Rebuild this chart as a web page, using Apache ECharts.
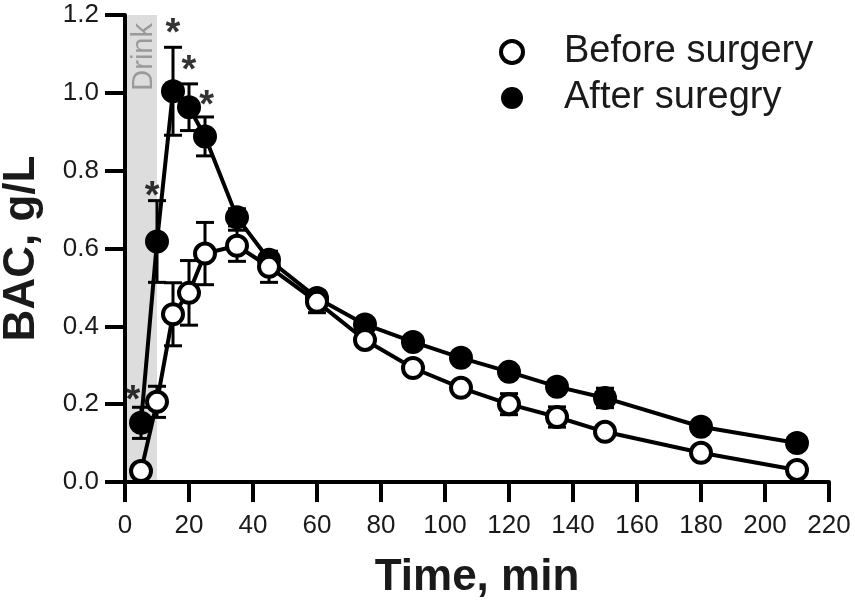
<!DOCTYPE html>
<html>
<head>
    <meta charset="utf-8">
    <title>BAC before and after surgery</title>
    <script src="https://cdn.jsdelivr.net/npm/echarts@6/dist/echarts.min.js"></script>
    <style>
        html, body { margin: 0; padding: 0; background: #fff; }
        #main { width: 855px; height: 608px; }
    </style>
</head>
<body>
<div id="main"></div>
<script type="text/javascript">
    // sampling times (min)
    var times = [5, 10, 15, 20, 25, 35, 45, 60, 75, 90, 105, 120, 135, 150, 180, 210];
    // mean BAC, g/L
    var beforeVals = [0.028, 0.206, 0.431, 0.486, 0.587, 0.607, 0.553, 0.463, 0.365, 0.293, 0.242, 0.200, 0.167, 0.129, 0.075, 0.031];
    var afterVals = [0.152, 0.618, 1.004, 0.963, 0.888, 0.680, 0.571, 0.473, 0.405, 0.360, 0.319, 0.283, 0.245, 0.216, 0.142, 0.100];
    // error (SEM)
    var beforeErr = [0.010, 0.040, 0.081, 0.083, 0.080, 0.040, 0.040, 0.028, 0.012, 0.012, 0.012, 0.027, 0.026, 0.012, 0.012, 0.012];
    var afterErr = [0.040, 0.105, 0.113, 0.060, 0.050, 0.022, 0.020, 0.015, 0.012, 0.012, 0.012, 0.012, 0.012, 0.025, 0.012, 0.012];
    // significance marks
    var starX = [2.5, 8.5, 15, 20, 25.5];
    var starY = [0.229, 0.755, 1.174, 1.079, 0.989];
    // drinking period
    var drinkStart = 0, drinkEnd = 10;
    var xTicks = [0, 220, 20];
    var yTicks = [0, 1.2, 0.2];

    var FONT = '"Liberation Sans", Arial, Helvetica, sans-serif';

    function pairs(vals) {
        return times.map(function (t, i) { return [t, vals[i]]; });
    }
    function errRows(vals, errs) {
        return times.map(function (t, i) { return [t, vals[i] - errs[i], vals[i] + errs[i]]; });
    }

    function renderErr(params, api) {
        var x = api.value(0);
        var top = api.coord([x, api.value(2)]);
        var bot = api.coord([x, api.value(1)]);
        var w = 9;
        var st = { stroke: '#000', lineWidth: 3 };
        return {
            type: 'group',
            children: [
                { type: 'line', shape: { x1: top[0], y1: top[1], x2: bot[0], y2: bot[1] }, style: st },
                { type: 'line', shape: { x1: top[0] - w, y1: top[1], x2: top[0] + w, y2: top[1] }, style: st },
                { type: 'line', shape: { x1: bot[0] - w, y1: bot[1], x2: bot[0] + w, y2: bot[1] }, style: st }
            ]
        };
    }

    function renderBand(params, api) {
        var p0 = api.coord([api.value(0), yTicks[1]]);
        var p1 = api.coord([api.value(1), 0]);
        return {
            type: 'group',
            children: [
                {
                    type: 'rect',
                    shape: { x: p0[0], y: p0[1], width: p1[0] - p0[0], height: p1[1] - p0[1] },
                    style: { fill: '#dcdddc' }
                },
                {
                    type: 'text',
                    x: (p0[0] + p1[0]) / 2 + 3,
                    y: p0[1] + 8,
                    rotation: Math.PI / 2,
                    style: {
                        text: 'Drink',
                        fill: '#9a9a9a',
                        fontSize: 29,
                        fontFamily: FONT,
                        align: 'right',
                        verticalAlign: 'middle'
                    }
                }
            ]
        };
    }

    var chart = echarts.init(document.getElementById('main'));

    var option = {
        animation: false,
        backgroundColor: '#fff',
        grid: { left: 125, right: 26, top: 15, bottom: 126, outerBoundsMode: 'none', containLabel: false },
        legend: {
            orient: 'vertical',
            left: 494,
            top: 28,
            itemWidth: 22,
            itemHeight: 22,
            itemGap: 8,
            data: [
                { name: 'Before surgery', icon: 'circle', itemStyle: { color: '#fff', borderColor: '#000', borderWidth: 4 } },
                { name: 'After suregry', icon: 'circle', itemStyle: { color: '#000' } }
            ],
            textStyle: { fontSize: 38, color: '#1a1a1a', fontFamily: FONT, padding: [0, 0, 0, 36] }
        },
        xAxis: {
            type: 'value',
            min: xTicks[0],
            max: xTicks[1],
            interval: xTicks[2],
            name: 'Time, min',
            nameLocation: 'middle',
            nameGap: 74,
            nameTextStyle: { fontSize: 44, fontWeight: 'bold', color: '#1a1a1a', fontFamily: FONT },
            splitLine: { show: false },
            axisLine: { lineStyle: { color: '#000', width: 4 } },
            axisTick: { length: 20, lineStyle: { color: '#000', width: 4 } },
            axisLabel: { margin: 31, fontSize: 26, color: '#1a1a1a', fontFamily: FONT }
        },
        yAxis: {
            type: 'value',
            min: yTicks[0],
            max: yTicks[1],
            interval: yTicks[2],
            name: 'BAC, g/L',
            nameLocation: 'middle',
            nameGap: 81,
            nameTextStyle: { fontSize: 44, fontWeight: 'bold', color: '#1a1a1a', fontFamily: FONT },
            splitLine: { show: false },
            axisLine: { lineStyle: { color: '#000', width: 4 } },
            axisTick: { length: 20, lineStyle: { color: '#000', width: 4 } },
            axisLabel: {
                margin: 26, fontSize: 26, color: '#1a1a1a', fontFamily: FONT,
                formatter: function (v) { return v.toFixed(1); }
            }
        },
        series: [
            {
                name: 'drink',
                type: 'custom',
                renderItem: renderBand,
                data: [[drinkStart, drinkEnd]],
                encode: { x: [0, 1] },
                silent: true,
                z: 0
            },
            {
                name: 'after err',
                type: 'custom',
                renderItem: renderErr,
                data: errRows(afterVals, afterErr),
                encode: { x: 0, y: [1, 2] },
                silent: true,
                z: 1
            },
            {
                name: 'before err',
                type: 'custom',
                renderItem: renderErr,
                data: errRows(beforeVals, beforeErr),
                encode: { x: 0, y: [1, 2] },
                silent: true,
                z: 1
            },
            {
                name: 'After suregry',
                type: 'line',
                data: pairs(afterVals),
                symbol: 'circle',
                symbolSize: 24,
                showAllSymbol: true,
                lineStyle: { color: '#000', width: 4 },
                itemStyle: { color: '#000' },
                z: 3
            },
            {
                name: 'Before surgery',
                type: 'line',
                data: pairs(beforeVals),
                symbol: 'circle',
                symbolSize: 20,
                showAllSymbol: true,
                lineStyle: { color: '#000', width: 4 },
                itemStyle: { color: '#fff', borderColor: '#000', borderWidth: 4 },
                z: 4
            },
            {
                name: 'stars',
                type: 'scatter',
                data: starX.map(function (x, i) { return [x, starY[i]]; }),
                symbolSize: 1,
                itemStyle: { color: 'rgba(0,0,0,0)' },
                label: {
                    show: true,
                    position: 'inside',
                    formatter: '*',
                    fontSize: 38,
                    fontWeight: 'bold',
                    color: '#000',
                    fontFamily: FONT,
                    offset: [0, 9]
                },
                silent: true,
                z: 5
            }
        ]
    };

    chart.setOption(option);
</script>
</body>
</html>
